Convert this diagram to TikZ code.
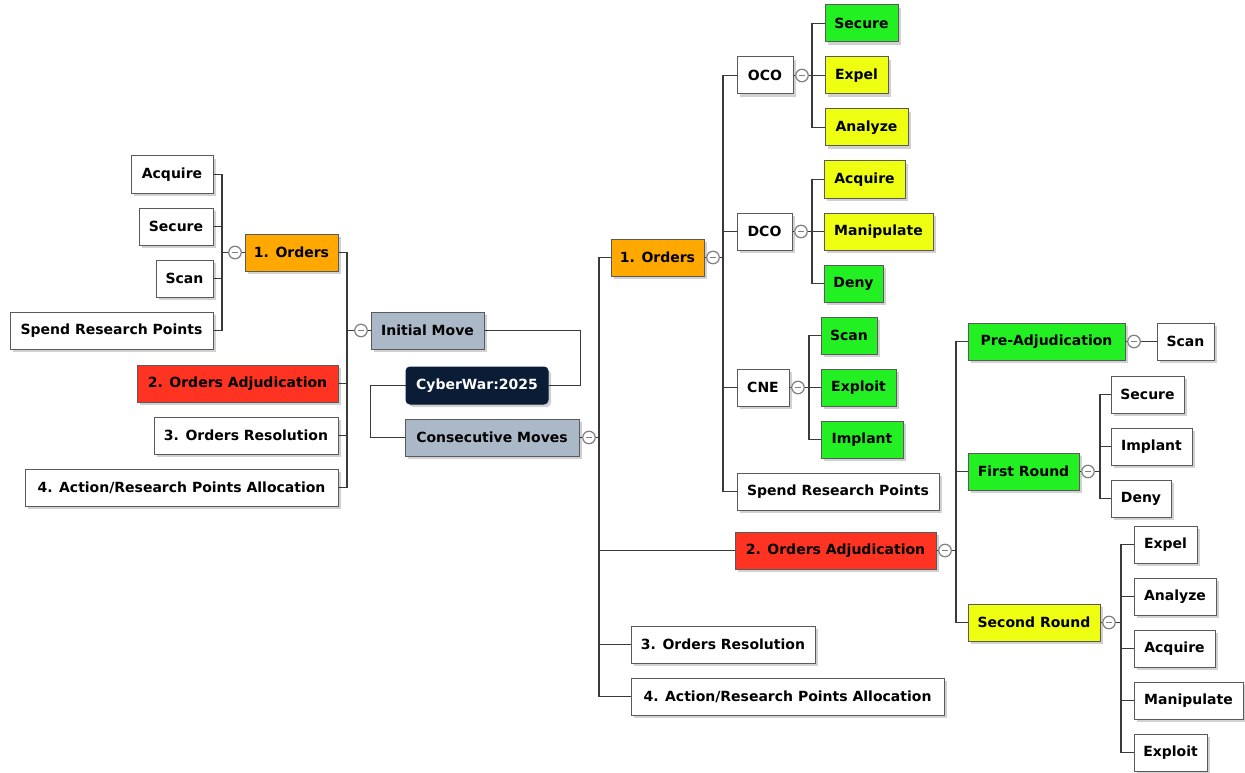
\documentclass[tikz,border=0pt]{standalone}
\usepackage{fontspec}
\setmainfont{DejaVu Sans}
\usetikzlibrary{shadows}
\pgfdeclarelayer{bg}
\pgfsetlayers{bg,main}
\definecolor{cOrange}{HTML}{FFA800}
\definecolor{cRed}{HTML}{FF3322}
\definecolor{cGreen}{HTML}{22F022}
\definecolor{cYellow}{HTML}{EEFF11}
\definecolor{cGrayBlue}{HTML}{AAB8C8}
\definecolor{cNavy}{HTML}{0B1D36}
\definecolor{cLine}{HTML}{3A3A3A}
\definecolor{cBorder}{HTML}{5A5A5A}
\tikzset{
  box/.style={draw=cBorder, line width=1pt, fill=white, inner sep=0pt, minimum height=37pt,
    font=\fontsize{14}{16}\selectfont\bfseries, text=black,
    drop shadow={shadow xshift=3pt, shadow yshift=-3pt, opacity=0.18, fill=black}},
  wbox/.style={box},
  obox/.style={box, fill=cOrange},
  rbox/.style={box, fill=cRed},
  gbox/.style={box, fill=cGreen},
  ybox/.style={box, fill=cYellow},
  bbox/.style={box, fill=cGrayBlue},
  rootbox/.style={box, fill=cNavy, text=white, rounded corners=4pt, draw=cNavy},
  coll/.style={circle, draw=gray, line width=1.2pt, fill=white, minimum size=12.5pt, inner sep=0pt,
    path picture={\draw[gray, line width=1.1pt] ([xshift=-2.6pt]path picture bounding box.center) -- ([xshift=2.6pt]path picture bounding box.center);}},
  conn/.style={draw=cLine, line width=1.8pt},
}
\newcommand\mybox[6]{\node[#2, minimum width={(#5)-(#3)}] (#1) at ({((#3)+(#5))/2},{(#4)+18.5}) {#6};}
\begin{document}
\begin{tikzpicture}[x=1pt, y=-1pt]
\useasboundingbox (0,0) rectangle (1245,773);
% ---------------- left side ----------------
\mybox{lacq}{wbox}{131}{156}{213}{Acquire}
\mybox{lsec}{wbox}{139}{208}{213}{Secure}
\mybox{lscan}{wbox}{156}{260}{213}{Scan}
\mybox{lsrp}{wbox}{10}{312}{213}{Spend Research Points}
\mybox{lord}{obox}{245}{234}{338}{1. Orders}
\mybox{ladj}{rbox}{137}{365}{338}{2. Orders Adjudication}
\mybox{lres}{wbox}{154}{417}{338}{3. Orders Resolution}
\mybox{lall}{wbox}{25}{469}{338}{4. Action/Research Points Allocation}
\mybox{im}{bbox}{371}{312}{484}{Initial Move}
\mybox{root}{rootbox}{406}{367}{548}{CyberWar:2025}
\mybox{cm}{bbox}{405}{419}{579}{Consecutive Moves}
\node[coll] (clord) at (235,252.5) {};
\node[coll] (cim) at (361,330.5) {};
\node[coll] (ccm) at (589,437.5) {};
% ---------------- right side ----------------
\mybox{rord}{obox}{611}{239}{704}{1. Orders}
\node[coll] (crord) at (713,257.5) {};
\mybox{oco}{wbox}{737}{57}{793}{OCO}
\node[coll] (coco) at (802,75.5) {};
\mybox{osec}{gbox}{825}{5}{898}{Secure}
\mybox{oexp}{ybox}{825}{57}{888}{Expel}
\mybox{oana}{ybox}{825}{109}{908}{Analyze}
\mybox{dco}{wbox}{737}{213}{792}{DCO}
\node[coll] (cdco) at (801,231.5) {};
\mybox{dacq}{ybox}{824}{161}{905}{Acquire}
\mybox{dman}{ybox}{824}{213}{933}{Manipulate}
\mybox{dden}{gbox}{824}{265}{883}{Deny}
\mybox{cne}{wbox}{737}{369}{789}{CNE}
\node[coll] (ccne) at (798,387.5) {};
\mybox{cscan}{gbox}{821}{317}{877}{Scan}
\mybox{cexp}{gbox}{821}{369}{896}{Exploit}
\mybox{cimp}{gbox}{821}{421}{903}{Implant}
\mybox{rsrp}{wbox}{737}{473}{939}{Spend Research Points}
\mybox{radj}{rbox}{735}{532}{936}{2. Orders Adjudication}
\node[coll] (cradj) at (945,550.5) {};
\mybox{pre}{gbox}{968}{323}{1125}{Pre-Adjudication}
\node[coll] (cpre) at (1134,341.5) {};
\mybox{pscan}{wbox}{1157}{323}{1214}{Scan}
\mybox{fr}{gbox}{968}{453}{1079}{First Round}
\node[coll] (cfr) at (1088,471.5) {};
\mybox{fsec}{wbox}{1111}{376}{1184}{Secure}
\mybox{fimp}{wbox}{1111}{428}{1192}{Implant}
\mybox{fden}{wbox}{1111}{480}{1171}{Deny}
\mybox{sr}{ybox}{968}{604}{1100}{Second Round}
\node[coll] (csr) at (1109,622.5) {};
\mybox{sexp}{wbox}{1134}{526}{1197}{Expel}
\mybox{sana}{wbox}{1134}{578}{1216}{Analyze}
\mybox{sacq}{wbox}{1134}{630}{1215}{Acquire}
\mybox{sman}{wbox}{1134}{682}{1243}{Manipulate}
\mybox{sexl}{wbox}{1134}{734}{1207}{Exploit}
\mybox{rres}{wbox}{631}{626}{815}{3. Orders Resolution}
\mybox{rall}{wbox}{631}{678}{944}{4. Action/Research Points Allocation}
% ---------------- connectors ----------------
\begin{pgfonlayer}{bg}
% left 1. Orders
\foreach \c in {lacq,lsec,lscan,lsrp} \draw[conn] (clord.west) -- ++(-6,0) |- (\c.east);
\draw[conn] (clord.east) -- (lord.west);
% Initial Move
\foreach \c in {lord,ladj,lres,lall} \draw[conn] (cim.west) -- ++(-7.5,0) |- (\c.east);
\draw[conn] (cim.east) -- (im.west);
% root
\draw[conn] (root.east) -- ++(32,0) |- (im.east);
\draw[conn] (root.west) -- ++(-35,0) |- (cm.west);
% Consecutive Moves
\draw[conn] (cm.east) -- (ccm.west);
\foreach \c in {rord,radj,rres,rall} \draw[conn] (ccm.east) -- ++(3.5,0) |- (\c.west);
% right 1. Orders
\draw[conn] (rord.east) -- (crord.west);
\foreach \c in {oco,dco,cne,rsrp} \draw[conn] (crord.east) -- ++(3.5,0) |- (\c.west);
\draw[conn] (oco.east) -- (coco.west);
\foreach \c in {osec,oexp,oana} \draw[conn] (coco.east) -- ++(3.5,0) |- (\c.west);
\draw[conn] (dco.east) -- (cdco.west);
\foreach \c in {dacq,dman,dden} \draw[conn] (cdco.east) -- ++(4.5,0) |- (\c.west);
\draw[conn] (cne.east) -- (ccne.west);
\foreach \c in {cscan,cexp,cimp} \draw[conn] (ccne.east) -- ++(4.5,0) |- (\c.west);
% right 2. Orders Adjudication
\draw[conn] (radj.east) -- (cradj.west);
\foreach \c in {pre,fr,sr} \draw[conn] (cradj.east) -- ++(4.5,0) |- (\c.west);
\draw[conn] (pre.east) -- (cpre.west);
\draw[conn] (cpre.east) -- (pscan.west);
\draw[conn] (fr.east) -- (cfr.west);
\foreach \c in {fsec,fimp,fden} \draw[conn] (cfr.east) -- ++(5.5,0) |- (\c.west);
\draw[conn] (sr.east) -- (csr.west);
\foreach \c in {sexp,sana,sacq,sman,sexl} \draw[conn] (csr.east) -- ++(5.5,0) |- (\c.west);
\end{pgfonlayer}
\end{tikzpicture}
\end{document}
